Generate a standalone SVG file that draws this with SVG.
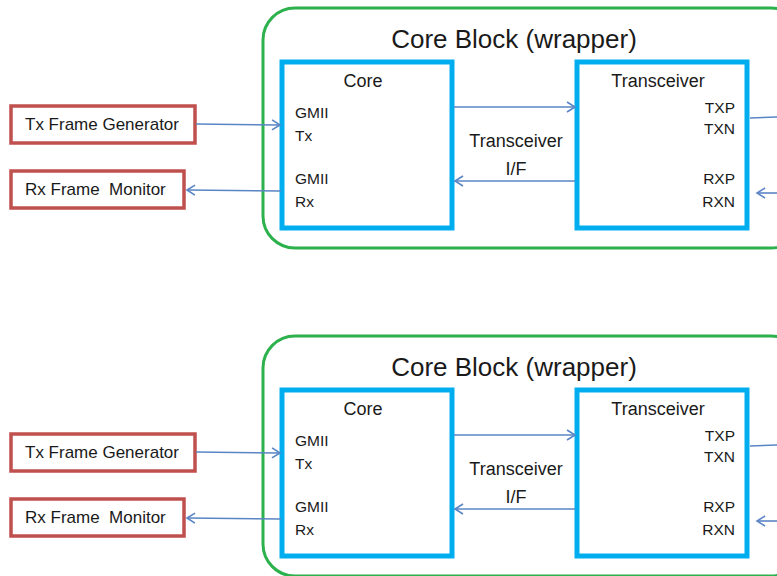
<svg xmlns="http://www.w3.org/2000/svg" width="777" height="576" viewBox="0 0 777 576">
<defs>
<style>
.wrap{fill:#fff;stroke:#2db14d;stroke-width:3}
.blk{fill:#fff;stroke:#00aeef;stroke-width:5}
.red{fill:#fff;stroke:#c0504d;stroke-width:3.5}
.con{stroke:#5a85c4;stroke-width:1.6;fill:none}
.t{font-family:"Liberation Sans",Arial,sans-serif;fill:#1a1a1a}
.title{font-size:26px}
.hd{font-size:18px}
.pt{font-size:15.5px}
.lb{font-size:17px}
</style>
<marker id="ah" markerWidth="12" markerHeight="12" refX="9" refY="6" orient="auto" markerUnits="userSpaceOnUse">
<path d="M1,1 L9,6 L1,11" fill="none" stroke="#5a85c4" stroke-width="1.6"/>
</marker>
<g id="panel">
<g id="wrapper">
<rect class="wrap" x="263" y="8" width="540" height="240" rx="32"/>
<text class="t title" x="514" y="48" text-anchor="middle">Core Block (wrapper)</text>
</g>
<g id="core">
<rect class="blk" x="282" y="62" width="170" height="166"/>
<text class="t hd" x="363" y="87" text-anchor="middle">Core</text>
<text class="t pt" x="295" y="118">GMII</text>
<text class="t pt" x="295" y="141">Tx</text>
<text class="t pt" x="295" y="184">GMII</text>
<text class="t pt" x="295" y="207">Rx</text>
</g>
<g id="transceiver">
<rect class="blk" x="577" y="62" width="170" height="166"/>
<text class="t hd" x="658" y="87" text-anchor="middle">Transceiver</text>
<text class="t pt" x="735" y="113" text-anchor="end">TXP</text>
<text class="t pt" x="735" y="134" text-anchor="end">TXN</text>
<text class="t pt" x="735" y="184" text-anchor="end">RXP</text>
<text class="t pt" x="735" y="207" text-anchor="end">RXN</text>
</g>
<g id="txgen">
<rect class="red" x="11" y="106" width="184" height="37"/>
<text class="t lb" x="25" y="130">Tx Frame Generator</text>
</g>
<g id="rxmon">
<rect class="red" x="11" y="171" width="173" height="37"/>
<text class="t lb" x="25" y="195" xml:space="preserve">Rx Frame  Monitor</text>
</g>
<g id="iflabel">
<text class="t hd" x="516" y="147" text-anchor="middle">Transceiver</text>
<text class="t hd" x="516" y="175" text-anchor="middle">I/F</text>
</g>
<g id="connectors">
<line class="con" x1="196" y1="124" x2="280" y2="125" marker-end="url(#ah)"/>
<line class="con" x1="281" y1="191" x2="187" y2="190" marker-end="url(#ah)"/>
<line class="con" x1="454" y1="107" x2="575" y2="107" marker-end="url(#ah)"/>
<line class="con" x1="575" y1="181" x2="455" y2="181" marker-end="url(#ah)"/>
<line class="con" x1="750" y1="118" x2="777" y2="117"/>
<line class="con" x1="777" y1="193" x2="757" y2="193" marker-end="url(#ah)"/>
</g>
</g>
</defs>
<rect width="777" height="576" fill="#fff"/>
<use href="#panel"/>
<use href="#panel" transform="translate(0,328)"/>
</svg>
